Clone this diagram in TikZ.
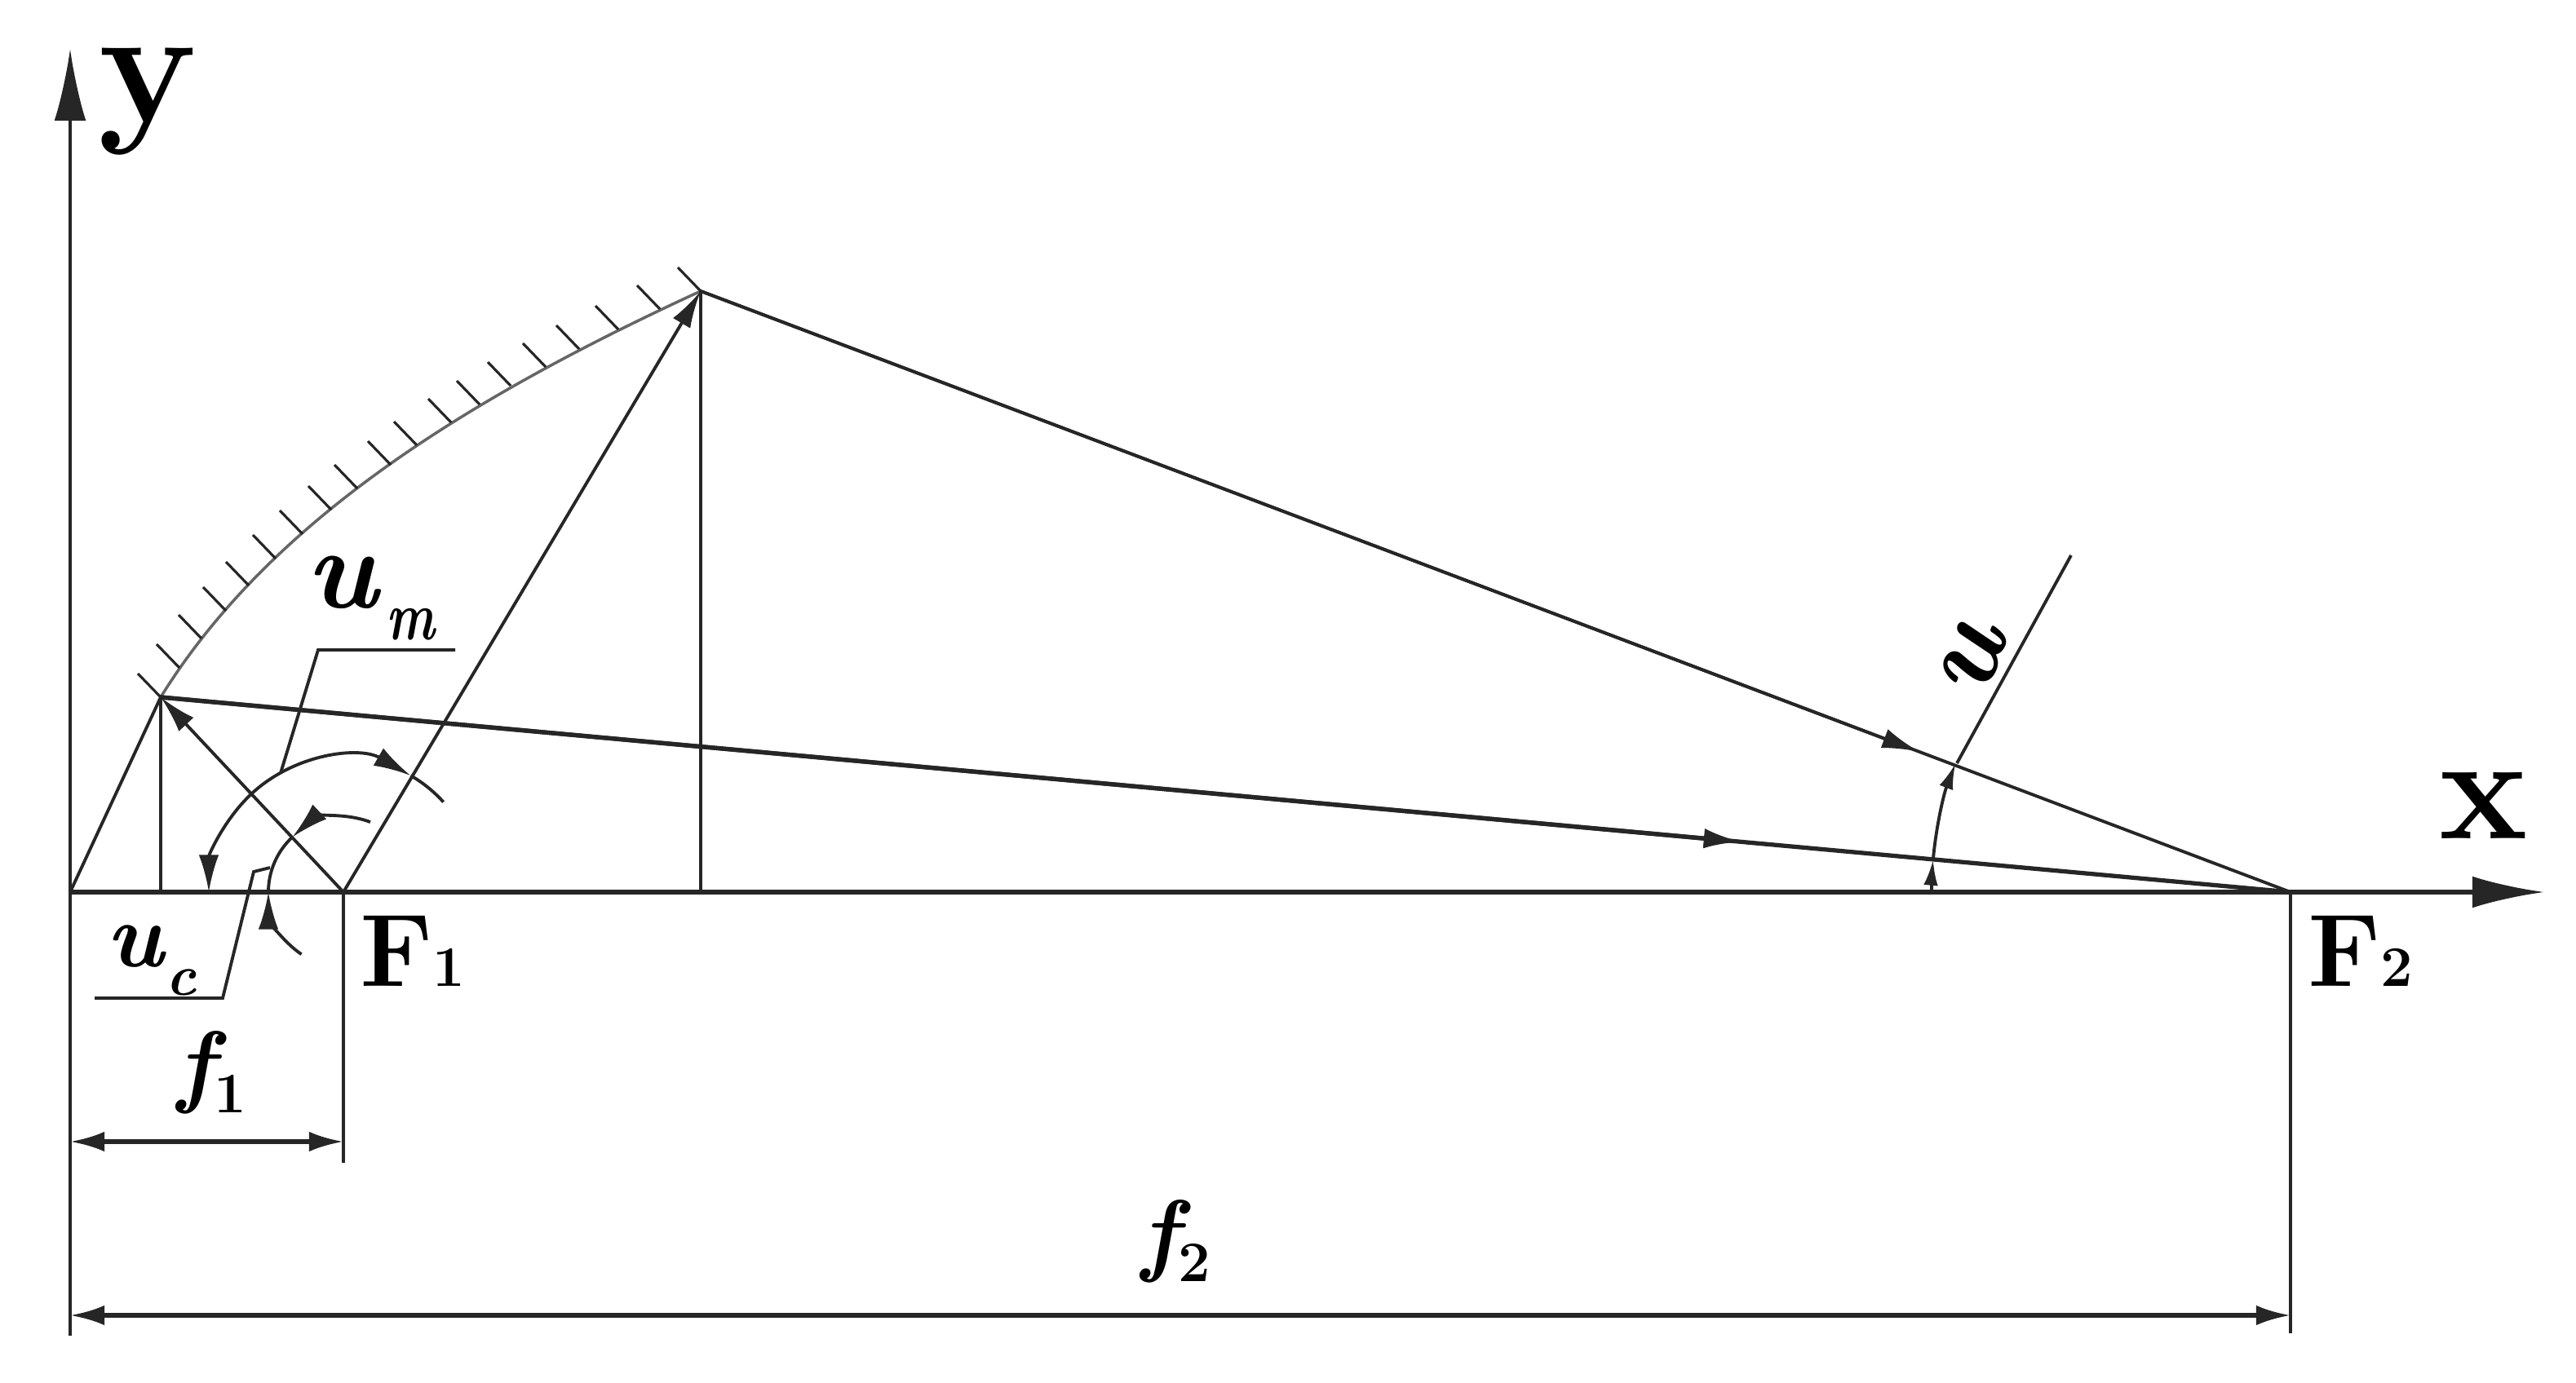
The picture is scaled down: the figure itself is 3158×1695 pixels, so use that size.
\documentclass[tikz,border=0pt]{standalone}
\usetikzlibrary{arrows.meta}
\newcommand{\fs}[1]{\fontsize{#1}{#1}\selectfont}
\definecolor{inkline}{gray}{0.15}
\definecolor{mirrorline}{gray}{0.4}
\tikzset{
	thin line/.style={color=inkline, line width=1.1pt},
	thick line/.style={color=inkline, line width=1.5pt},
	small tip/.style={-{Latex[length=9pt,width=5pt]}},
	ray tip/.style={-{Latex[length=13pt,width=7pt]}},
	axis tip/.style={-{Latex[length=25pt,width=11pt]}},
	dim tips/.style={{Latex[length=12pt,width=7pt]}-{Latex[length=12pt,width=7pt]}},
	lab/.style={inner sep=0pt, text=black, anchor=base}
}

\begin{document}
\begin{tikzpicture}[x=0.1mm,y=0.1mm]
	\useasboundingbox (0,0) rectangle (3158,1695);

	\coordinate (O) at (86,601);
	\coordinate (F1) at (421,601);
	\coordinate (F2) at (2808,601);
	\coordinate (P) at (197,840);
	\coordinate (A) at (859,1338);
	\coordinate (Pfoot) at (197,601);
	\coordinate (Afoot) at (859,601);
	\coordinate (xend) at (3119,601);
	\coordinate (yend) at (86,1635);

	%axes
	\draw[thick line, axis tip] (O) -- (xend);
	\draw[thin line, axis tip] (O) -- (yend);

	%mirror
	\draw[mirrorline, line width=1pt] (P) .. controls (330,1055) and (570,1205) .. (A);
	\foreach \i/\j in {197/840,220/876,247/912,277/946,305/977,338/1010,371/1040,406/1070,438/1096,479/1125,511/1149,553/1177,588/1199,626/1222,669/1245,710/1267,758/1291,809/1316,859/1338}
		\draw[thin line, line width=0.9pt] (\i,\j) -- ++(-28,29);

	%rays
	\draw[thin line] (O) -- (P);
	\draw[thin line] (P) -- (Pfoot);
	\draw[thin line] (A) -- (Afoot);
	\draw[thin line, ray tip] (F1) -- (P);
	\draw[thin line, ray tip] (F1) -- (A);
	\draw[thick line] (P) -- (F2) coordinate[pos=0.742] (Pmid);
	\draw[thick line, ray tip] (P) -- (Pmid);
	\draw[thin line] (A) -- (F2) coordinate[pos=0.7665] (Amid);
	\draw[thin line, ray tip] (A) -- (Amid);

	%angle at F1
	\draw[thin line, ray tip] (F1) ++(133:165) arc (133:60:165);
	\draw[thin line] (F1) ++(60:165) arc (60:42:165);
	\draw[thin line, ray tip] (F1) ++(133:165) arc (133:180:165);
	\draw[thin line, ray tip] (F1) ++(69:92) arc (69:133:92);
	\draw[thin line] (F1) ++(133:92) arc (133:180:92);
	\draw[thin line, ray tip] (F1) ++(236:92) arc (236:180:92);

	%leaders
	\coordinate (uma) at (344,747);
	\coordinate (umb) at (390,898);
	\coordinate (umc) at (558,898);
	\coordinate (uca) at (331,631);
	\coordinate (ucb) at (311,626);
	\coordinate (ucc) at (273,471);
	\coordinate (ucd) at (116,471);
	\draw[thin line] (uma) -- (umb) -- (umc);
	\draw[thin line] (uca) -- (ucb) -- (ucc) -- (ucd);

	%angle at F2
	\draw[thin line, small tip] (F2) ++(180:440) arc (180:174.8:440);
	\draw[thin line, small tip] (F2) ++(174.8:440) arc (174.8:159:440);
	\coordinate (ustart) at (2399,759);
	\coordinate (uend) at (2539,1014);
	\draw[thin line] (ustart) -- (uend);

	%dimensions
	\coordinate (Oext) at (86,57);
	\coordinate (Fonext) at (421,269);
	\coordinate (Ftwoext) at (2808,60);
	\coordinate (fonea) at (86,295);
	\coordinate (foneb) at (421,295);
	\coordinate (ftwoa) at (86,82);
	\coordinate (ftwob) at (2808,82);
	\draw[thin line, line width=0.9pt] (O) -- (Oext);
	\draw[thin line, line width=0.9pt] (F1) -- (Fonext);
	\draw[thin line, line width=0.9pt] (F2) -- (Ftwoext);
	\draw[thick line, dim tips] (fonea) -- (foneb);
	\draw[thick line, dim tips] (ftwoa) -- (ftwob);

	%labels
	\node[lab] (ylab) at (181,1545) {\fs{58}\bfseries y};
	\node[lab] (xlab) at (3045,667) {\fs{52}\bfseries x};
	\node[lab] (Fone) at (506,486) {{\fs{36}\bfseries F}{\fs{20}\bfseries 1}};
	\node[lab] (Ftwo) at (2894,486) {{\fs{36}\bfseries F}{\fs{20}\bfseries 2}};
	\node[lab] (um) at (454,949) {{\fs{40}\bfseries\itshape u}\hspace{3pt}\raisebox{-11pt}{\scalebox{0.75}[1]{\fs{24}\bfseries\itshape m}}};
	\node[lab] (uc) at (186,510) {{\fs{32}\bfseries\itshape u}\hspace{1pt}\raisebox{-10pt}{\fs{20}\bfseries\itshape c}};
	\node[lab] (fone) at (260,352) {{\fs{32}\bfseries\itshape f}\raisebox{-6pt}{\fs{20}\bfseries 1}};
	\node[lab] (ftwo) at (1442,145) {{\fs{32}\bfseries\itshape f}\raisebox{-6pt}{\fs{20}\bfseries 2}};
	\node[inner sep=0pt, rotate=70] (ulab) at (2418,885) {\fs{40}\bfseries\itshape u};
\end{tikzpicture}
\end{document}
